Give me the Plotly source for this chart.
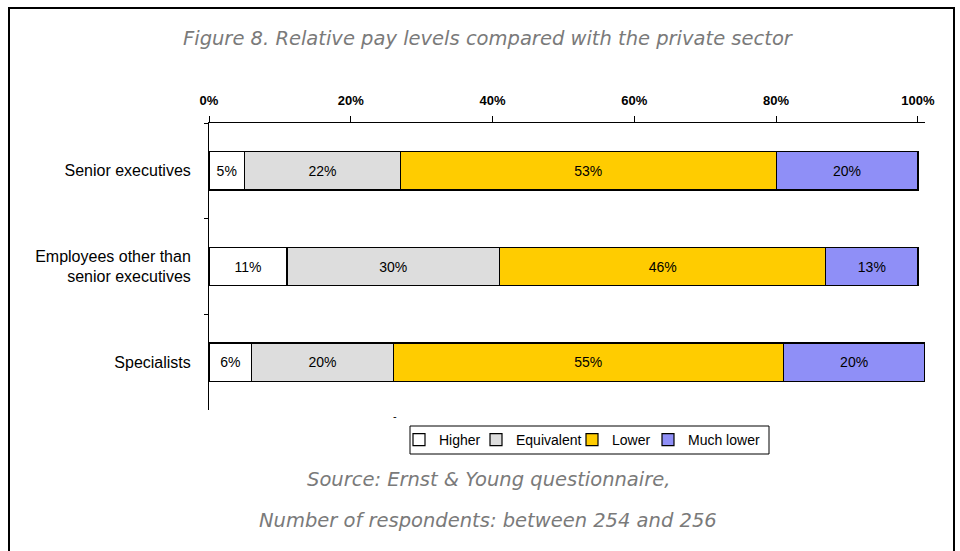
import plotly.graph_objects as go

# Survey answers: share of respondents per pay level (percent)
groups = ["Senior executives", "Employees other than<br>senior executives", "Specialists"]
levels = ["Higher", "Equivalent", "Lower", "Much lower"]
higher = [5, 11, 6]
equivalent = [22, 30, 20]
lower = [53, 46, 55]
much_lower = [20, 13, 20]
tick_vals = [0, 20, 40, 60, 80, 100]
tick_text = ["0%", "20%", "40%", "60%", "80%", "100%"]

series = [higher, equivalent, lower, much_lower]
colors = ["#FFFFFF", "#DDDDDD", "#FFCC00", "#8F8FF7"]
legend_ids = ["legend", "legend2", "legend3", "legend4"]
legend_px = [399, 476, 572, 648]

W, H = 960, 551
L, R, T, B = 209, 35, 123, 141
pw, ph = W - L - R, H - T - B


def px_x(px):
    return (px - L) / pw


def px_y(py):
    return (H - B - py) / ph


fig = go.Figure()
for name, vals, col, lg in zip(levels, series, colors, legend_ids):
    fig.add_trace(go.Bar(
        y=groups, x=vals, name=name, orientation="h", legend=lg,
        marker=dict(color=col, line=dict(color="#000000", width=1.2)),
        width=0.4,
        text=[f"{v}%" for v in vals], textposition="inside",
        insidetextanchor="middle", textangle=0, constraintext="none",
        textfont=dict(family="Liberation Sans, Arial", size=14, color="#000000"),
        hoverinfo="skip",
    ))

legend_font = dict(family="Liberation Sans, Arial", size=14, color="#000000")
legends = {}
for lg, lx in zip(legend_ids, legend_px):
    legends[lg] = dict(
        orientation="h", x=px_x(lx), y=px_y(424), xanchor="left", yanchor="top",
        borderwidth=0, bgcolor="rgba(0,0,0,0)", font=legend_font, itemwidth=30,
    )

title_font = dict(family="DejaVu Sans", size=19.5, color="#7a7a7a", style="italic")

fig.update_layout(
    barmode="stack",
    width=W, height=H,
    margin=dict(l=L, r=R, t=T, b=B),
    paper_bgcolor="white", plot_bgcolor="white",
    showlegend=True,
    **legends,
    xaxis=dict(
        side="top", range=[0, 101], tickvals=tick_vals, ticktext=tick_text,
        showgrid=False, zeroline=False, showline=True, linecolor="#000000", linewidth=1,
        ticks="outside", ticklen=6, tickcolor="#000000", ticklabelstandoff=6,
        tickfont=dict(family="Liberation Sans Narrow, Arial Narrow, Liberation Sans", size=13,
                      color="#000000", weight="bold"),
        fixedrange=True,
    ),
    yaxis=dict(
        autorange="reversed", showgrid=False, zeroline=False,
        showline=True, linecolor="#000000", linewidth=1,
        ticks="outside", ticklen=4, tickcolor="#000000", tickson="boundaries",
        ticklabelstandoff=14,
        tickfont=dict(family="Liberation Sans, Arial", size=16, color="#000000"),
        fixedrange=True,
    ),
    shapes=[
        # outer frame
        dict(type="rect", xref="paper", yref="paper",
             x0=px_x(9), x1=px_x(954), y0=px_y(580), y1=px_y(8),
             line=dict(color="#000000", width=2), fillcolor="rgba(0,0,0,0)", layer="below"),
        # legend box
        dict(type="rect", xref="paper", yref="paper",
             x0=px_x(410), x1=px_x(769), y0=px_y(454), y1=px_y(426),
             line=dict(color="#000000", width=1), fillcolor="rgba(0,0,0,0)", layer="below"),
    ],
    annotations=[
        dict(text="Figure 8. Relative pay levels compared with the private sector",
             xref="paper", yref="paper", x=px_x(488), y=px_y(38),
             showarrow=False, xanchor="center", yanchor="middle", font=title_font),
        dict(text="Source: Ernst & Young questionnaire,",
             xref="paper", yref="paper", x=px_x(488), y=px_y(479),
             showarrow=False, xanchor="center", yanchor="middle", font=title_font),
        dict(text="Number of respondents: between 254 and 256",
             xref="paper", yref="paper", x=px_x(488), y=px_y(520),
             showarrow=False, xanchor="center", yanchor="middle", font=title_font),
        dict(text="-", xref="paper", yref="paper", x=px_x(395), y=px_y(416),
             showarrow=False, xanchor="center", yanchor="middle",
             font=dict(family="Liberation Sans, Arial", size=11, color="#000000")),
    ],
)

fig.write_html("out.html")
